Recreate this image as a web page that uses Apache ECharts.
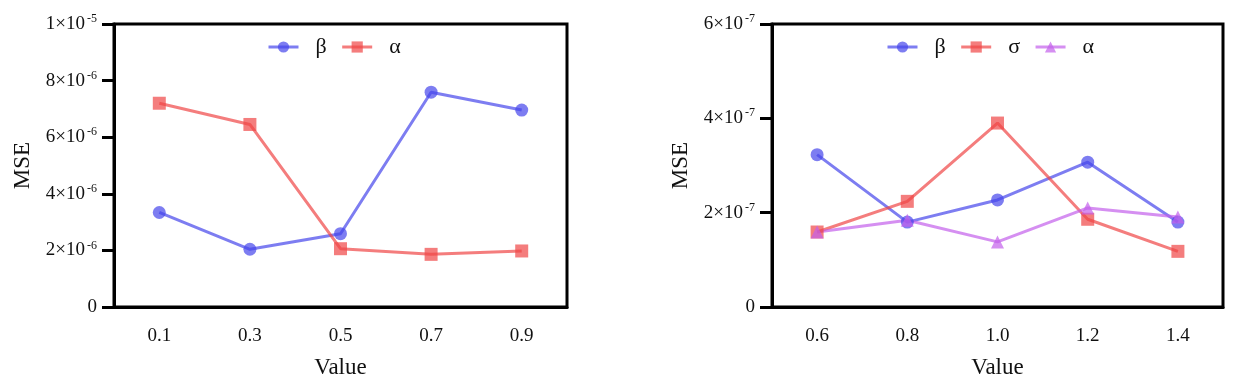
<!DOCTYPE html>
<html>
<head>
<meta charset="utf-8">
<script src="https://cdn.jsdelivr.net/npm/echarts@6/dist/echarts.min.js"></script>
<style>
  html, body { margin: 0; padding: 0; background: #fff; }
  #main { width: 1243px; height: 387px; }
</style>
</head>
<body>
<div id="main"></div>
<script>
// 左图数据
var xLeft = ['0.1', '0.3', '0.5', '0.7', '0.9'];
var betaLeft = [3.34e-6, 2.04e-6, 2.59e-6, 7.59e-6, 6.96e-6];
var alphaLeft = [7.2e-6, 6.45e-6, 2.06e-6, 1.86e-6, 1.98e-6];

// 右图数据
var xRight = ['0.6', '0.8', '1.0', '1.2', '1.4'];
var betaRight = [3.23e-7, 1.80e-7, 2.27e-7, 3.07e-7, 1.80e-7];
var sigmaRight = [1.59e-7, 2.24e-7, 3.90e-7, 1.86e-7, 1.18e-7];
var alphaRight = [1.59e-7, 1.84e-7, 1.38e-7, 2.10e-7, 1.91e-7];

var FONT = 'Liberation Serif';
var BLUE = 'rgb(70,70,235)';
var RED = 'rgb(240,70,70)';
var PURPLE = 'rgb(195,95,235)';

// 科学计数法刻度
function sciLabel(v) {
    if (v === 0) return '{b|0}';
    var s = v.toExponential(0).split('e');
    var exp = parseInt(s[1], 10);
    return '{b|' + s[0] + '×10}{s|' + (exp < 0 ? '-' + (-exp) : exp) + '}';
}

var richTick = {
    b: { fontFamily: FONT, fontSize: 19, color: '#111', lineHeight: 22 },
    s: { fontFamily: FONT, fontSize: 12, color: '#111', verticalAlign: 'top', lineHeight: 14, padding: [0, 0, 0, 2] }
};

function xAxisOf(idx, data) {
    return {
        type: 'category',
        gridIndex: idx,
        data: data,
        boundaryGap: true,
        name: 'Value',
        nameLocation: 'middle',
        nameGap: 49,
        nameTextStyle: { fontFamily: FONT, fontSize: 23, color: '#111' },
        axisLine: { lineStyle: { color: '#000', width: 3 } },
        axisTick: { alignWithLabel: true, length: 12, lineStyle: { width: 3, color: '#000' } },
        axisLabel: { fontFamily: FONT, fontSize: 19, color: '#111', margin: 20 },
        splitLine: { show: false }
    };
}

function yAxisOf(idx, max, interval) {
    return {
        type: 'value',
        gridIndex: idx,
        min: 0,
        max: max,
        interval: interval,
        name: 'MSE',
        nameLocation: 'middle',
        nameGap: 80,
        nameRotate: 90,
        nameTextStyle: { fontFamily: FONT, fontSize: 23, color: '#111' },
        axisLine: { show: true, lineStyle: { color: '#000', width: 3 } },
        axisTick: { show: true, length: 12, lineStyle: { width: 3, color: '#000' } },
        axisLabel: { formatter: sciLabel, rich: richTick, margin: 17, fontFamily: FONT, fontSize: 19, color: '#111' },
        splitLine: { show: false }
    };
}

function lineSerie(name, data, color, symbol, xi) {
    return {
        name: name,
        type: 'line',
        xAxisIndex: xi,
        yAxisIndex: xi,
        data: data,
        symbol: symbol,
        symbolSize: 13,
        itemStyle: { color: color, opacity: 0.7 },
        lineStyle: { color: color, width: 3, opacity: 0.7 },
        emphasis: { disabled: true },
        animation: false
    };
}

var legendText = { fontFamily: FONT, fontSize: 22, color: '#111', padding: [0, 6, 0, 12] };

// 图例名去掉后缀
function legendName(name) {
    return name.split('_')[0];
}

var option = {
    animation: false,
    legend: [
        {
            data: ['β_L', 'α_L'],
            formatter: legendName,
            left: 262,
            top: 31,
            itemWidth: 30,
            itemHeight: 14,
            itemGap: 14,
            lineStyle: { width: 3 },
            textStyle: legendText
        },
        {
            data: ['β_R', 'σ_R', 'α_R'],
            formatter: legendName,
            left: 881,
            top: 31,
            itemWidth: 30,
            itemHeight: 14,
            itemGap: 14,
            lineStyle: { width: 3 },
            textStyle: legendText
        }
    ],
    grid: [
        { left: 114, top: 24, width: 453, height: 283, show: true, borderColor: '#000', borderWidth: 3, containLabel: false },
        { left: 772, top: 24, width: 451, height: 283, show: true, borderColor: '#000', borderWidth: 3, containLabel: false }
    ],
    xAxis: [xAxisOf(0, xLeft), xAxisOf(1, xRight)],
    yAxis: [yAxisOf(0, 1e-5, 2e-6), yAxisOf(1, 6e-7, 2e-7)],
    series: [
        lineSerie('β_L', betaLeft, BLUE, 'circle', 0),
        lineSerie('α_L', alphaLeft, RED, 'rect', 0),
        lineSerie('β_R', betaRight, BLUE, 'circle', 1),
        lineSerie('σ_R', sigmaRight, RED, 'rect', 1),
        lineSerie('α_R', alphaRight, PURPLE, 'triangle', 1)
    ]
};

var myChart = echarts.init(document.getElementById('main'));
myChart.setOption(option);
</script>
</body>
</html>
